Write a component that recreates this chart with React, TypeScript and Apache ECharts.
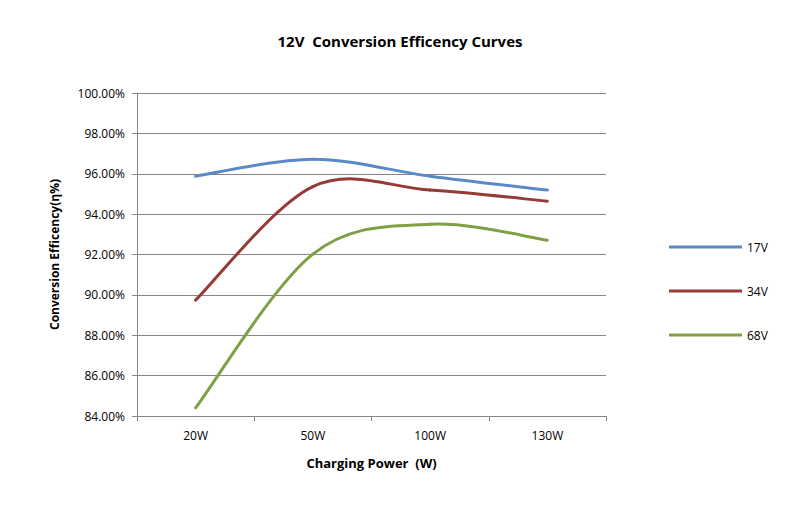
import React, { useEffect, useRef } from "react";
import * as echarts from "echarts";

const categories = ["20W", "50W", "100W", "130W"];
const series17V = [95.88, 96.72, 95.88, 95.19];
const series34V = [89.74, 95.36, 95.19, 94.64];
const series68V = [84.4, 92.02, 93.5, 92.71];
const seriesNames = ["17V", "34V", "68V"];
const colors = ["#5A89C5", "#963A38", "#80A046"];

export default function App() {
  const ref = useRef<HTMLDivElement>(null);
  useEffect(() => {
    if (!ref.current) return;
    const chart = echarts.init(ref.current, undefined, { renderer: "svg" });
    const font = "'Open Sans', 'Noto Sans', sans-serif";
    const data = [series17V, series34V, series68V];

    const makeRender = (vals: number[], color: string) => (params: any, api: any) => {
      const i = params.dataIndex;
      if (i >= vals.length - 1) return null;
      const pts = vals.map((v, k) => api.coord([k, v]));
      const p0 = pts[Math.max(i - 1, 0)];
      const p1 = pts[i];
      const p2 = pts[i + 1];
      const p3 = pts[Math.min(i + 2, pts.length - 1)];
      const t = 1 / 6;
      return {
        type: "bezierCurve",
        shape: {
          x1: p1[0],
          y1: p1[1],
          cpx1: p1[0] + (p2[0] - p0[0]) * t,
          cpy1: p1[1] + (p2[1] - p0[1]) * t,
          cpx2: p2[0] - (p3[0] - p1[0]) * t,
          cpy2: p2[1] - (p3[1] - p1[1]) * t,
          x2: p2[0],
          y2: p2[1],
        },
        style: { stroke: color, lineWidth: 3, fill: "none", lineCap: "round" },
      };
    };

    chart.setOption({
      animation: false,
      backgroundColor: "#ffffff",
      textStyle: { fontFamily: font },
      title: {
        text: "12V  Conversion Efficency Curves",
        left: "center",
        top: 28,
        textStyle: { fontSize: 15, fontWeight: "bold", color: "#000", fontFamily: font },
      },
      legend: {
        orient: "vertical",
        left: 664,
        top: 236,
        itemWidth: 73,
        itemHeight: 14,
        itemGap: 32,
        data: seriesNames.map((n) => ({
          name: n,
          icon: "path://M0,6 L72,6 L72,9 L0,9 Z",
        })),
        textStyle: { fontSize: 12, color: "#000", fontFamily: font },
      },
      grid: { left: 137, right: 194, top: 93, bottom: 101 },
      xAxis: {
        type: "category",
        data: categories,
        boundaryGap: true,
        name: "Charging Power  (W)",
        nameLocation: "middle",
        nameGap: 40,
        nameTextStyle: { fontSize: 13, fontWeight: "bold", color: "#000" },
        axisLine: { lineStyle: { color: "#868686", width: 1 } },
        axisTick: { show: true, length: 5, lineStyle: { color: "#868686" } },
        axisLabel: { fontSize: 12, color: "#000", margin: 13 },
      },
      yAxis: {
        type: "value",
        min: 84,
        max: 100,
        interval: 2,
        name: "Conversion Efficency(η%)",
        nameLocation: "middle",
        nameGap: 77,
        nameTextStyle: { fontSize: 12, fontWeight: "bold", color: "#000" },
        axisLine: { show: true, lineStyle: { color: "#868686", width: 1 } },
        axisTick: { show: true, length: 5, lineStyle: { color: "#868686" } },
        axisLabel: {
          fontSize: 12,
          color: "#000",
          margin: 12,
          formatter: (v: number) => v.toFixed(2) + "%",
        },
        splitLine: { show: true, lineStyle: { color: "#868686", width: 1 } },
      },
      series: seriesNames.map((n, i) => ({
        name: n,
        type: "custom",
        renderItem: makeRender(data[i], colors[i]),
        data: data[i].map((v, k) => [k, v]),
        encode: { x: 0, y: 1 },
        itemStyle: { color: colors[i] },
      })),
    });
    return () => chart.dispose();
  }, []);
  return <div ref={ref} style={{ width: 800, height: 517, position: "absolute", left: 0, top: 0 }} />;
}
